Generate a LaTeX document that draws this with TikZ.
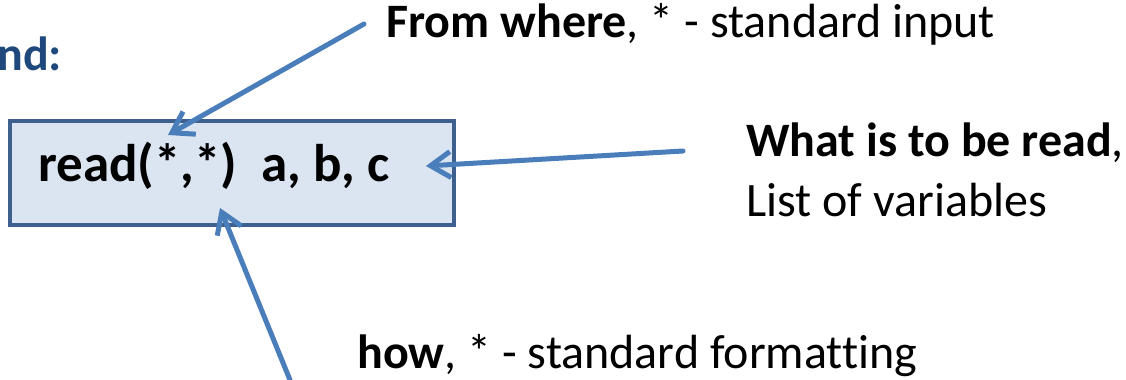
\documentclass[tikz,border=0pt]{standalone}
\usepackage{fontspec}
\setmainfont{Carlito}[Ligatures=CommonOff]
\usetikzlibrary{arrows.meta}
\definecolor{arrowblue}{RGB}{74,126,187}
\definecolor{boxborder}{RGB}{62,96,142}
\definecolor{boxfill}{RGB}{219,228,241}
\definecolor{titleblue}{RGB}{31,73,125}
\tikzset{
  pointer/.style={draw=arrowblue, line width=2.5pt, line cap=round,
    -{Straight Barb[length=10pt,width=13pt,line width=2.5pt]}},
  codebox/.style={draw=boxborder, fill=boxfill, line width=2pt, rectangle,
    minimum width=222pt, minimum height=52pt, inner sep=0pt},
  lbl/.style={anchor=base west, inner sep=0pt, font=\fontsize{24}{29}\selectfont}
}
\begin{document}
\begin{tikzpicture}[x=0.5pt,y=-0.5pt]
\useasboundingbox (0,0) rectangle (1126,380);
\node[lbl, text=titleblue, font=\fontsize{24}{29}\selectfont\bfseries] (title) at (-3,70) {nd:};
\node[codebox] (box) at (232,173) {};
\node[lbl, font=\fontsize{26.5}{31}\selectfont\bfseries] (code) at (38,181) {read(*,*)\ \ a, b, c};
\node[lbl] (where) at (386,38) {\textbf{From where}, * - standard input};
\node[lbl] (what) at (746,156) {\textbf{What is to be read},};
\node[lbl] (list) at (746,216) {List of variables};
\node[lbl] (how) at (357,368) {\textbf{how}, * - standard formatting};
\coordinate (s1) at (364,24);
\coordinate (t1) at (168,135);
\coordinate (s2) at (683,151);
\coordinate (t2) at (426,166);
\coordinate (s3) at (290,380);
\coordinate (t3) at (220,208);
\draw[pointer] (s1) -- (t1);
\draw[pointer] (s2) -- (t2);
\draw[pointer] (s3) -- (t3);
\end{tikzpicture}
\end{document}
